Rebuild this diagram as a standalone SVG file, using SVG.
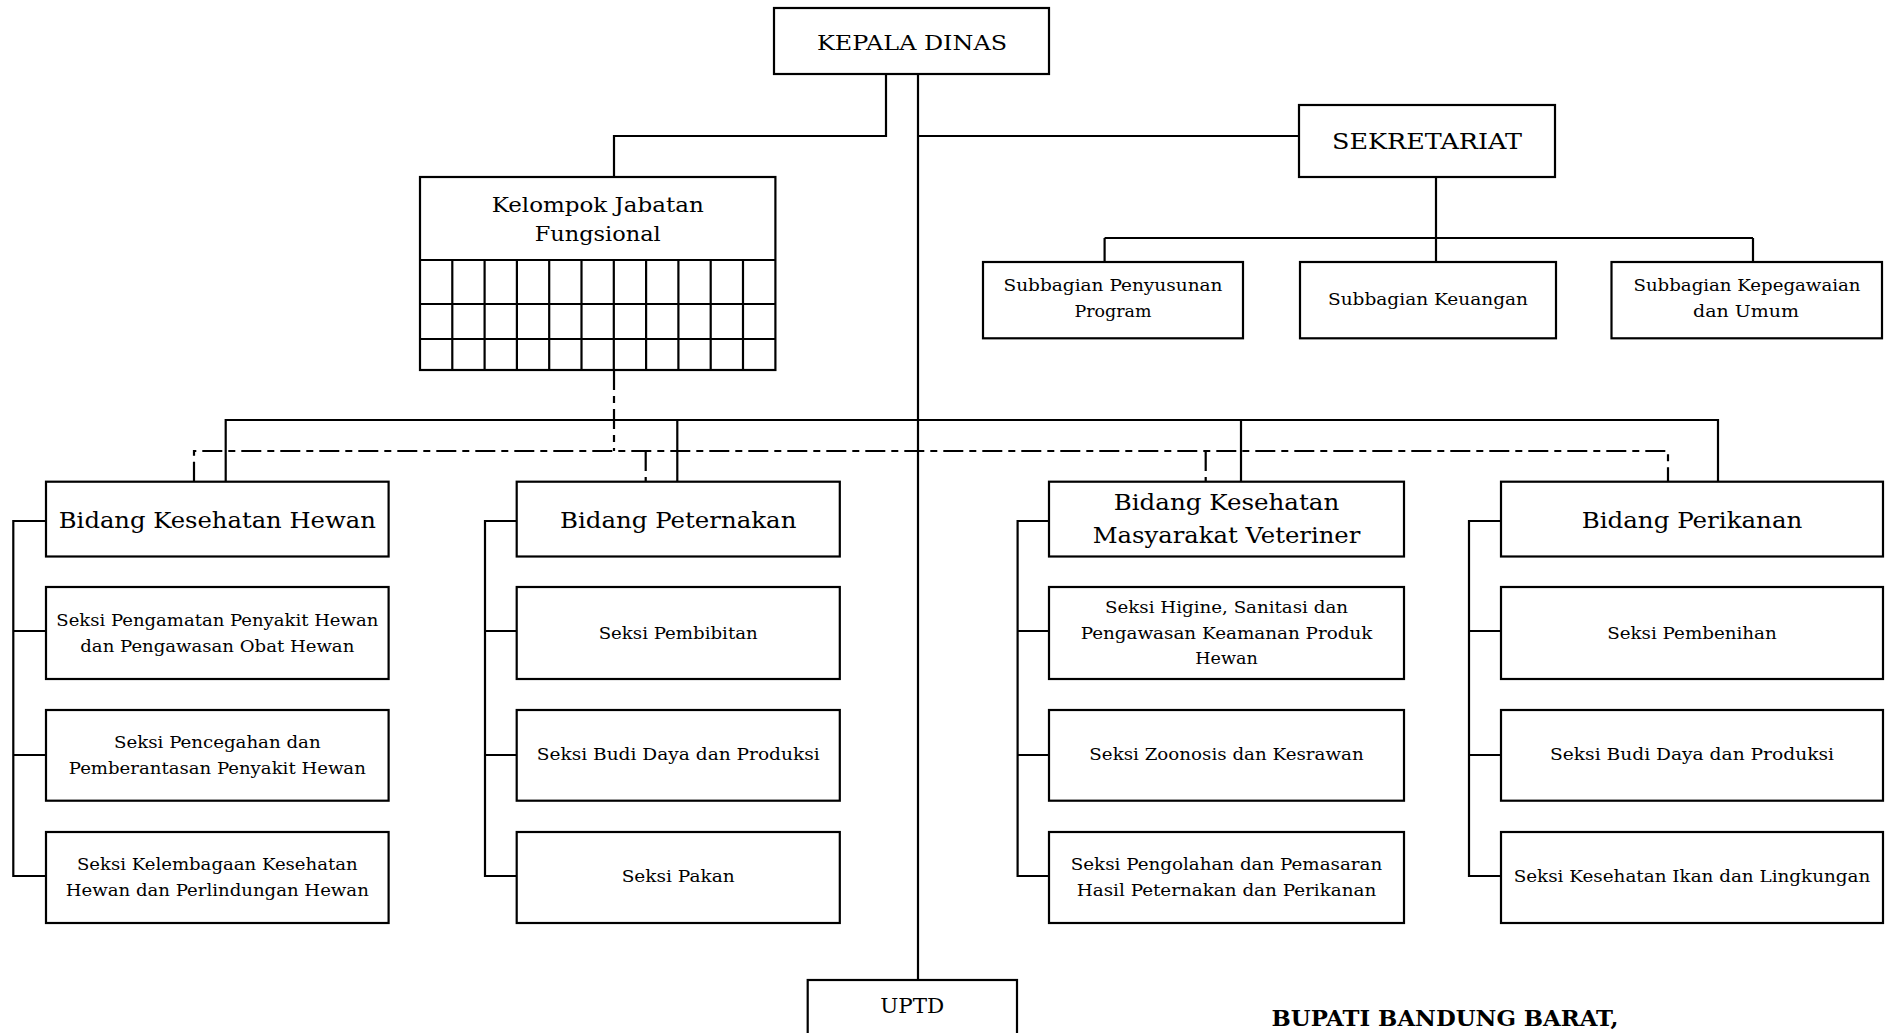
<svg xmlns="http://www.w3.org/2000/svg" width="1893" height="1033" viewBox="0 0 1893 1033">
<style>
rect.box{fill:#fff;stroke:#000;stroke-width:2.2}
.ln{fill:none;stroke:#000;stroke-width:2.2}
.dd{fill:none;stroke:#000;stroke-width:2.2;stroke-dasharray:20 6 7 6}
text{font-family:"DejaVu Serif","Liberation Serif",serif;fill:#000;text-anchor:middle}
.s{font-size:16px}
.b{font-size:22px}
.h{font-size:21px}
.k{font-size:23px;font-weight:bold}
</style>
<rect width="1893" height="1033" fill="#fff"/>
<g id="connectors">
<path class="ln" d="M886,74 V136 H614 V177"/>
<path class="ln" d="M918,74 V980"/>
<path class="ln" d="M918,136 H1299"/>
<path class="ln" d="M1436,177 V238 M1104.6,238 H1753 M1104.6,238 V262 M1436,238 V262 M1753,238 V262"/>
<path class="ln" d="M225.7,481.7 V420 H1718 V481.7 M677.3,420 V481.7 M1241,420 V481.7"/>
<path class="dd" d="M614,370 V451"/>
<path class="dd" d="M194,481.7 V451 H1668 V481.7 M645.7,451 V481.7 M1205.7,451 V481.7"/>
<path class="ln" d="M46,521 H13.3 V876 H46 M13.3,631 H46 M13.3,755 H46"/>
<path class="ln" d="M516.7,521 H485 V876 H516.7 M485,631 H516.7 M485,755 H516.7"/>
<path class="ln" d="M1049,521 H1017.6 V876 H1049 M1017.6,631 H1049 M1017.6,755 H1049"/>
<path class="ln" d="M1501,521 H1469 V876 H1501 M1469,631 H1501 M1469,755 H1501"/>
</g>
<g id="kepala-dinas">
<rect class="box" x="774" y="8" width="275" height="66"/>
<text class="h" x="912" y="50" textLength="190" lengthAdjust="spacingAndGlyphs">KEPALA DINAS</text>
</g>
<g id="kelompok-jabatan-fungsional">
<rect class="box" x="420" y="177" width="355.4" height="193"/>
<path class="ln" d="M420,260 H775.4 M420,304 H775.4 M420,339 H775.4 M452.3,260 V370 M484.6,260 V370 M516.9,260 V370 M549.2,260 V370 M581.5,260 V370 M613.8,260 V370 M646.1,260 V370 M678.4,260 V370 M710.7,260 V370 M743,260 V370"/>
<text class="h" x="597.7" y="212" textLength="212" lengthAdjust="spacingAndGlyphs">Kelompok Jabatan</text>
<text class="h" x="597.7" y="241" textLength="126" lengthAdjust="spacingAndGlyphs">Fungsional</text>
</g>
<g id="sekretariat">
<rect class="box" x="1299" y="105" width="256" height="72"/>
<text class="b" x="1427" y="149" textLength="190" lengthAdjust="spacingAndGlyphs">SEKRETARIAT</text>
</g>
<g id="subbagian-penyusunan-program">
<rect class="box" x="983" y="262" width="260" height="76.3"/>
<text class="s" x="1113" y="291" textLength="219" lengthAdjust="spacingAndGlyphs">Subbagian Penyusunan</text>
<text class="s" x="1113" y="317" textLength="77" lengthAdjust="spacingAndGlyphs">Program</text>
</g>
<g id="subbagian-keuangan">
<rect class="box" x="1300" y="262" width="256" height="76.3"/>
<text class="s" x="1428" y="305" textLength="200" lengthAdjust="spacingAndGlyphs">Subbagian Keuangan</text>
</g>
<g id="subbagian-kepegawaian">
<rect class="box" x="1611.5" y="262" width="270.5" height="76.3"/>
<text class="s" x="1747" y="291" textLength="227" lengthAdjust="spacingAndGlyphs">Subbagian Kepegawaian</text>
<text class="s" x="1746" y="317" textLength="106" lengthAdjust="spacingAndGlyphs">dan Umum</text>
</g>
<g id="bidang-kesehatan-hewan">
<rect class="box" x="46" y="481.7" width="342.6" height="74.8"/>
<text class="b" x="217.3" y="528.3" textLength="317" lengthAdjust="spacingAndGlyphs">Bidang Kesehatan Hewan</text>
</g>
<g id="seksi-pengamatan">
<rect class="box" x="46" y="587" width="342.6" height="92"/>
<text class="s" x="217.3" y="625.8" textLength="322" lengthAdjust="spacingAndGlyphs">Seksi Pengamatan Penyakit Hewan</text>
<text class="s" x="217.3" y="651.8" textLength="274" lengthAdjust="spacingAndGlyphs">dan Pengawasan Obat Hewan</text>
</g>
<g id="seksi-pencegahan">
<rect class="box" x="46" y="710" width="342.6" height="90.7"/>
<text class="s" x="217.3" y="748.3" textLength="206.6" lengthAdjust="spacingAndGlyphs">Seksi Pencegahan dan</text>
<text class="s" x="217.3" y="773.6" textLength="297" lengthAdjust="spacingAndGlyphs">Pemberantasan Penyakit Hewan</text>
</g>
<g id="seksi-kelembagaan">
<rect class="box" x="46" y="832" width="342.6" height="91"/>
<text class="s" x="217.3" y="870.2" textLength="280.7" lengthAdjust="spacingAndGlyphs">Seksi Kelembagaan Kesehatan</text>
<text class="s" x="217.3" y="895.6" textLength="303" lengthAdjust="spacingAndGlyphs">Hewan dan Perlindungan Hewan</text>
</g>
<g id="bidang-peternakan">
<rect class="box" x="516.7" y="481.7" width="323.1" height="74.8"/>
<text class="b" x="678.2" y="528.3" textLength="236.5" lengthAdjust="spacingAndGlyphs">Bidang Peternakan</text>
</g>
<g id="seksi-pembibitan">
<rect class="box" x="516.7" y="587" width="323.1" height="92"/>
<text class="s" x="678.2" y="638.8" textLength="159" lengthAdjust="spacingAndGlyphs">Seksi Pembibitan</text>
</g>
<g id="seksi-budidaya-peternakan">
<rect class="box" x="516.7" y="710" width="323.1" height="90.7"/>
<text class="s" x="678.2" y="760.4" textLength="283" lengthAdjust="spacingAndGlyphs">Seksi Budi Daya dan Produksi</text>
</g>
<g id="seksi-pakan">
<rect class="box" x="516.7" y="832" width="323.1" height="91"/>
<text class="s" x="678.2" y="882.3" textLength="113" lengthAdjust="spacingAndGlyphs">Seksi Pakan</text>
</g>
<g id="bidang-kesmavet">
<rect class="box" x="1049" y="481.7" width="355" height="74.8"/>
<text class="b" x="1226.5" y="510.2" textLength="225.5" lengthAdjust="spacingAndGlyphs">Bidang Kesehatan</text>
<text class="b" x="1226.5" y="542.8" textLength="267.7" lengthAdjust="spacingAndGlyphs">Masyarakat Veteriner</text>
</g>
<g id="seksi-higine">
<rect class="box" x="1049" y="587" width="355" height="92"/>
<text class="s" x="1226.5" y="613" textLength="243" lengthAdjust="spacingAndGlyphs">Seksi Higine, Sanitasi dan</text>
<text class="s" x="1226.5" y="638.5" textLength="291.7" lengthAdjust="spacingAndGlyphs">Pengawasan Keamanan Produk</text>
<text class="s" x="1226.5" y="664" textLength="62.5" lengthAdjust="spacingAndGlyphs">Hewan</text>
</g>
<g id="seksi-zoonosis">
<rect class="box" x="1049" y="710" width="355" height="90.7"/>
<text class="s" x="1226.5" y="760.4" textLength="274.3" lengthAdjust="spacingAndGlyphs">Seksi Zoonosis dan Kesrawan</text>
</g>
<g id="seksi-pengolahan">
<rect class="box" x="1049" y="832" width="355" height="91"/>
<text class="s" x="1226.5" y="870.2" textLength="311.5" lengthAdjust="spacingAndGlyphs">Seksi Pengolahan dan Pemasaran</text>
<text class="s" x="1226.5" y="895.6" textLength="299.5" lengthAdjust="spacingAndGlyphs">Hasil Peternakan dan Perikanan</text>
</g>
<g id="bidang-perikanan">
<rect class="box" x="1501" y="481.7" width="382" height="74.8"/>
<text class="b" x="1692" y="528.3" textLength="220.7" lengthAdjust="spacingAndGlyphs">Bidang Perikanan</text>
</g>
<g id="seksi-pembenihan">
<rect class="box" x="1501" y="587" width="382" height="92"/>
<text class="s" x="1692" y="638.8" textLength="169.6" lengthAdjust="spacingAndGlyphs">Seksi Pembenihan</text>
</g>
<g id="seksi-budidaya-perikanan">
<rect class="box" x="1501" y="710" width="382" height="90.7"/>
<text class="s" x="1692" y="760.4" textLength="283.9" lengthAdjust="spacingAndGlyphs">Seksi Budi Daya dan Produksi</text>
</g>
<g id="seksi-kesehatan-ikan">
<rect class="box" x="1501" y="832" width="382" height="91"/>
<text class="s" x="1692" y="882.3" textLength="356.6" lengthAdjust="spacingAndGlyphs">Seksi Kesehatan Ikan dan Lingkungan</text>
</g>
<g id="uptd">
<rect class="box" x="807.7" y="980" width="209.3" height="80"/>
<text class="h" x="912.3" y="1013" textLength="64" lengthAdjust="spacingAndGlyphs">UPTD</text>
</g>
<g id="signature">
<text class="k" x="1445" y="1026" textLength="347" lengthAdjust="spacingAndGlyphs">BUPATI BANDUNG BARAT,</text>
</g>
</svg>
